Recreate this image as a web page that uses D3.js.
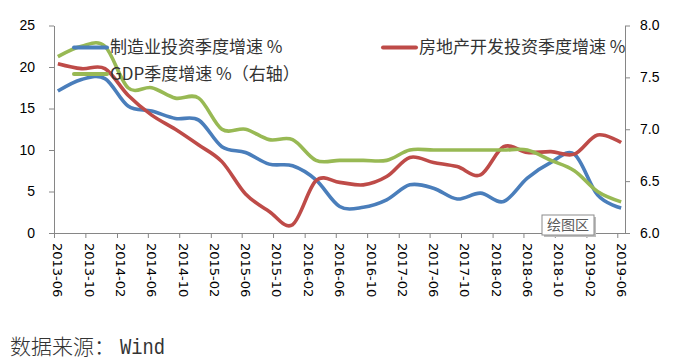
<!DOCTYPE html>
<html>
<head>
<meta charset="utf-8">
<script src="https://cdn.jsdelivr.net/npm/d3@7"></script>
<style>
  body { margin: 0; background: #fff; }
  svg { display: block; }
</style>
</head>
<body>
<svg id="chart" width="676" height="364"></svg>
<script>
// quarterly points (cumulative yoy)
const quarters = ["2013-06", "2013-09", "2013-12", "2014-03", "2014-06", "2014-09", "2014-12",
  "2015-03", "2015-06", "2015-09", "2015-12", "2016-03", "2016-06", "2016-09", "2016-12",
  "2017-03", "2017-06", "2017-09", "2017-12", "2018-03", "2018-06", "2018-09", "2018-12",
  "2019-03", "2019-06"];
const mfg = [17.1, 18.5, 18.6, 15.3, 14.7, 13.8, 13.6, 10.4, 9.7, 8.3, 8.1, 6.4, 3.2,
  3.1, 4.0, 5.8, 5.4, 4.1, 4.8, 3.8, 6.6, 8.5, 9.5, 4.6, 3.0];
const realEstate = [20.4, 19.8, 19.8, 16.6, 14.2, 12.5, 10.6, 8.6, 4.7, 2.6, 1.0, 6.3, 6.1,
  5.8, 6.8, 9.1, 8.5, 8.0, 7.0, 10.4, 9.7, 9.8, 9.5, 11.8, 10.9];
const gdp = [7.7, 7.8, 7.8, 7.4, 7.4, 7.3, 7.3, 7.0, 7.0, 6.9, 6.9, 6.7, 6.7, 6.7, 6.7,
  6.8, 6.8, 6.8, 6.8, 6.8, 6.8, 6.7, 6.6, 6.4, 6.3];

const tickLabels = ["2013-06", "2013-10", "2014-02", "2014-06", "2014-10", "2015-02", "2015-06",
  "2015-10", "2016-02", "2016-06", "2016-10", "2017-02", "2017-06", "2017-10", "2018-02",
  "2018-06", "2018-10", "2019-02", "2019-06"];
const leftTicks = [0, 5, 10, 15, 20, 25];
const rightTicks = [6.0, 6.5, 7.0, 7.5, 8.0];

const parseMonth = d3.timeParse("%Y-%m");
// points sit in the middle of their month (Excel date axis, base unit = month)
const midMonth = s => d3.timeDay.offset(parseMonth(s), 15);

const svg = d3.select("#chart");
const axisColor = "#868686";

const x = d3.scaleTime()
  .domain([parseMonth("2013-06"), parseMonth("2019-07")])
  .range([54, 625]);
const yL = d3.scaleLinear().domain([0, 25]).range([233, 25.5]);
const yR = d3.scaleLinear().domain([6, 8]).range([233, 25.5]);

// axes
const gx = svg.append("g")
  .attr("transform", "translate(0,233)")
  .call(d3.axisBottom(x).tickValues(tickLabels.map(parseMonth)).tickSize(5).tickSizeOuter(0).tickFormat(""));
gx.selectAll("path, line").attr("stroke", axisColor);
gx.selectAll(".tick").append("text")
  .attr("transform", "translate(3.6,10) rotate(90)")
  .attr("dy", "0.36em")
  .attr("text-anchor", "start")
  .attr("fill", "#000")
  .style("font", "13px 'DejaVu Sans'")
  .text((d, i) => tickLabels[i]);

const gyL = svg.append("g")
  .attr("transform", "translate(54,0)")
  .call(d3.axisLeft(yL).tickValues(leftTicks).tickSize(5).tickSizeOuter(0).tickPadding(14));
gyL.selectAll("path, line").attr("stroke", axisColor);
gyL.selectAll("text").attr("fill", "#000").style("font", "14px 'Liberation Sans'");

const gyR = svg.append("g")
  .attr("transform", "translate(625,0)")
  .call(d3.axisRight(yR).tickValues(rightTicks).tickSize(5).tickSizeOuter(0).tickPadding(10)
    .tickFormat(d3.format(".1f")));
gyR.selectAll("path, line").attr("stroke", axisColor);
gyR.selectAll("text").attr("fill", "#000").style("font", "14px 'Liberation Sans'");

// lines
const series = [
  { name: "制造业投资季度增速 %", values: mfg, y: yL, color: "#4A7EBB" },
  { name: "房地产开发投资季度增速 %", values: realEstate, y: yL, color: "#BE4B48" },
  { name: "GDP季度增速 %（右轴）", values: gdp, y: yR, color: "#98B954" }
];

series.forEach(s => {
  const line = d3.line()
    .x((d, i) => x(midMonth(quarters[i])))
    .y(d => s.y(d))
    .curve(d3.curveCatmullRom.alpha(0));
  svg.append("path")
    .datum(s.values)
    .attr("fill", "none")
    .attr("stroke", s.color)
    .attr("stroke-width", 3.6)
    .attr("stroke-linejoin", "round")
    .attr("d", line);
});

// legend
const legendPos = [[74, 47.5], [383, 47.5], [74, 74]];
series.forEach((s, i) => {
  const [lx, ly] = legendPos[i];
  const g = svg.append("g").attr("transform", `translate(${lx},${ly})`);
  g.append("line")
    .attr("x1", 0).attr("x2", 33)
    .attr("stroke", s.color).attr("stroke-width", 4).attr("stroke-linecap", "round");
  g.append("text")
    .attr("x", 36).attr("dy", "0.35em")
    .attr("fill", "#333")
    .style("font", "17px 'Noto Sans CJK SC'")
    .text(s.name);
});

// "plot area" tooltip left on the screenshot
const tip = svg.append("g").attr("transform", "translate(542,215)");
tip.append("rect").attr("x", 2).attr("y", 2).attr("width", 52).attr("height", 20).attr("fill", "#bdbdbd");
tip.append("rect").attr("width", 52).attr("height", 20).attr("fill", "#fff").attr("stroke", "#8c8c8c");
tip.append("text")
  .attr("x", 26).attr("y", 10).attr("dy", "0.35em").attr("text-anchor", "middle")
  .attr("fill", "#595959")
  .style("font", "14px 'Noto Sans CJK SC'")
  .text("绘图区");

// source
svg.append("text")
  .attr("x", 10).attr("y", 354)
  .attr("fill", "#333")
  .style("font", "300 21px 'Noto Sans CJK SC'")
  .text("数据来源：");
svg.append("text")
  .attr("x", 120).attr("y", 354)
  .attr("fill", "#333")
  .attr("textLength", 45).attr("lengthAdjust", "spacingAndGlyphs")
  .style("font", "22px 'Liberation Mono'")
  .text("Wind");
</script>
</body>
</html>
